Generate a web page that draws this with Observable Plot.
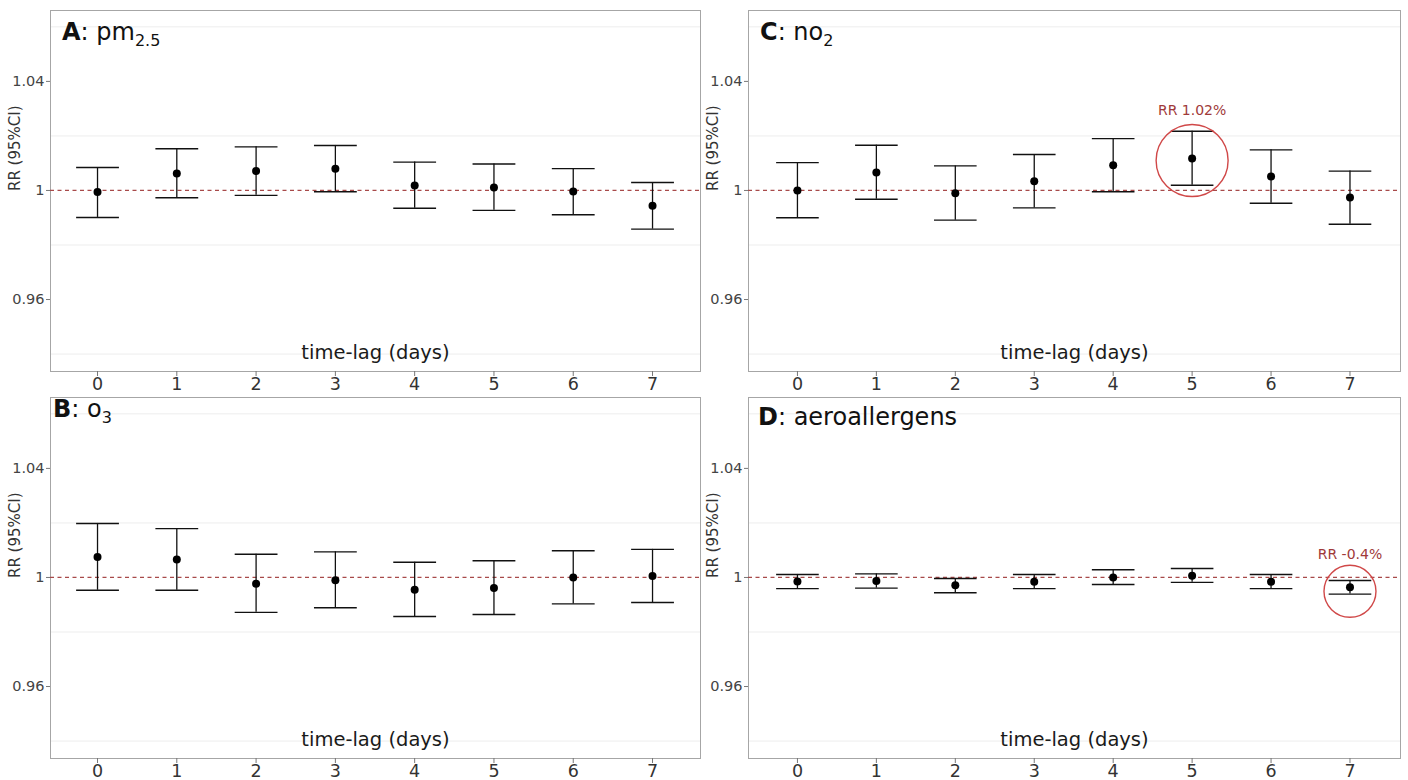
<!DOCTYPE html>
<html>
<head>
<meta charset="utf-8">
<script src="https://cdn.jsdelivr.net/npm/d3@7"></script>
<script src="https://cdn.jsdelivr.net/npm/@observablehq/plot@0.6"></script>
<style>
  html, body { margin: 0; padding: 0; background: #ffffff; }
  #chart { position: relative; width: 1408px; height: 780px; background: #ffffff; font-family: "DejaVu Sans", sans-serif; }
  .cell { position: absolute; }
</style>
</head>
<body>
<div id="chart"></div>
<script>
// ---- data ----
const lags = [0, 1, 2, 3, 4, 5, 6, 7];

const pm25_rr = [0.9994, 1.0062, 1.0071, 1.0080, 1.0018, 1.0011, 0.9996, 0.9944];
const pm25_lo = [0.9901, 0.9973, 0.9982, 0.9995, 0.9935, 0.9927, 0.9911, 0.9858];
const pm25_hi = [1.0084, 1.0153, 1.0160, 1.0165, 1.0104, 1.0097, 1.0080, 1.0029];

const o3_rr = [1.0075, 1.0066, 0.9977, 0.9990, 0.9955, 0.9961, 1.0000, 1.0005];
const o3_lo = [0.9953, 0.9953, 0.9872, 0.9889, 0.9857, 0.9864, 0.9903, 0.9908];
const o3_hi = [1.0198, 1.0179, 1.0085, 1.0094, 1.0056, 1.0061, 1.0098, 1.0103];

const no2_rr = [1.0000, 1.0066, 0.9990, 1.0034, 1.0092, 1.0117, 1.0051, 0.9974];
const no2_lo = [0.9900, 0.9968, 0.9891, 0.9936, 0.9995, 1.0019, 0.9953, 0.9876];
const no2_hi = [1.0102, 1.0166, 1.0090, 1.0132, 1.0190, 1.0217, 1.0149, 1.0071];

const aero_rr = [0.9985, 0.9987, 0.9971, 0.9984, 1.0000, 1.0006, 0.9984, 0.9964];
const aero_lo = [0.9959, 0.9961, 0.9944, 0.9959, 0.9974, 0.9982, 0.9959, 0.9939];
const aero_hi = [1.0011, 1.0013, 0.9996, 1.0011, 1.0028, 1.0033, 1.0011, 0.9989];

const yTicks = [0.96, 1, 1.04];
const yMinorGrid = [0.94, 0.98, 1.02, 1.06];
const xLabel = "time-lag (days)";
const yLabel = "RR (95%CI)";

const no2Note = {lag: 5, text: "RR 1.02%"};
const aeroNote = {lag: 7, text: "RR -0.4%"};

// ---- drawing ----
const CAP = 0.27;
const ERR = "#111111";
const REF = "#a84a4a";
const NOTE = "#a03a3a";
const RING = "#d04848";

function panel({rr, lo, hi, width, marginRight, xDomain, note, noteR, noteDy, noteTextDy, title, sub, tx, ty, height, marginTop, marginBottom}) {
  const data = lags.map((lag, i) => ({lag, rr: rr[i], lo: lo[i], hi: hi[i]}));
  const marks = [
    Plot.gridY(yMinorGrid, {stroke: "#ededed", strokeOpacity: 1}),
    Plot.frame({stroke: "#a6a6a6"}),
    Plot.ruleY([1], {stroke: REF, strokeDasharray: "4,3.5", strokeWidth: 1.3}),
    Plot.ruleX(data, {x: "lag", y1: "lo", y2: "hi", stroke: ERR, strokeWidth: 1.3}),
    Plot.link(data, {x1: d => d.lag - CAP, x2: d => d.lag + CAP, y1: "hi", y2: "hi", stroke: ERR, strokeWidth: 1.4}),
    Plot.link(data, {x1: d => d.lag - CAP, x2: d => d.lag + CAP, y1: "lo", y2: "lo", stroke: ERR, strokeWidth: 1.4}),
    Plot.dot(data, {x: "lag", y: "rr", r: 4, fill: "#000000", stroke: null}),
    Plot.axisX(lags, {tickSize: 5, tickPadding: 1, fontSize: 17.5, stroke: "#777777", fill: "#333333", label: null, tickFormat: d => String(d)}),
    Plot.axisY(yTicks, {tickSize: 4, tickPadding: 2, fontSize: 14.5, stroke: "#777777", fill: "#444444", label: null,
      tickFormat: d => d === 1 ? "1" : d3.format(".2f")(d)}),
    Plot.text([xLabel], {frameAnchor: "bottom", dy: -13, fontSize: 19.5, fill: "#1a1a1a"}),
    Plot.text([yLabel], {frameAnchor: "left", dx: -35, rotate: -90, fontSize: 15, fill: "#333333"})
  ];
  if (note) {
    const nd = data.filter(d => d.lag === note.lag).map(d => ({...d, text: note.text}));
    marks.push(Plot.dot(nd, {x: "lag", y: "rr", r: noteR, dy: noteDy, fill: "none", stroke: RING, strokeWidth: 1.4}));
    marks.push(Plot.text(nd, {x: "lag", y: "rr", text: "text", dy: noteTextDy, fontSize: 14, fill: NOTE}));
  }
  const svg = Plot.plot({
    width, height, marginLeft: 50, marginRight, marginTop, marginBottom,
    style: {fontFamily: "DejaVu Sans, sans-serif", background: "transparent", overflow: "visible"},
    x: {domain: xDomain},
    y: {domain: [0.9336, 1.066]},
    marks
  });
  const t = d3.select(svg).append("text")
    .attr("x", tx).attr("y", ty)
    .attr("text-anchor", "start")
    .attr("font-size", 24).attr("fill", "#111111")
    .attr("font-family", "DejaVu Sans, sans-serif");
  t.append("tspan").attr("font-weight", "bold").text(title[0]);
  t.append("tspan").text(title.slice(1));
  if (sub) t.append("tspan").attr("font-size", 16).attr("dy", 6).text(sub);
  return svg;
}

const chart = document.getElementById("chart");
function place(svg, left, top) {
  const d = document.createElement("div");
  d.className = "cell";
  d.style.left = left + "px";
  d.style.top = top + "px";
  d.appendChild(svg);
  chart.appendChild(d);
}

place(panel({rr: pm25_rr, lo: pm25_lo, hi: pm25_hi, width: 702, marginRight: 2, xDomain: [-0.593, 7.605],
  height: 392, marginTop: 10, marginBottom: 21, title: "A: pm", sub: "2.5", tx: 62, ty: 40}), 0, 0);
place(panel({rr: no2_rr, lo: no2_lo, hi: no2_hi, width: 706, marginRight: 4, xDomain: [-0.62, 7.64],
  height: 392, marginTop: 10, marginBottom: 21, title: "C: no", sub: "2", tx: 62, ty: 40,
  note: no2Note, noteR: 36, noteDy: 2, noteTextDy: -48}), 698, 0);
place(panel({rr: o3_rr, lo: o3_lo, hi: o3_hi, width: 702, marginRight: 2, xDomain: [-0.593, 7.605],
  height: 393, marginTop: 10, marginBottom: 22, title: "B: o", sub: "3", tx: 53, ty: 30}), 0, 387);
place(panel({rr: aero_rr, lo: aero_lo, hi: aero_hi, width: 706, marginRight: 4, xDomain: [-0.62, 7.64],
  height: 393, marginTop: 10, marginBottom: 22, title: "D: aeroallergens", sub: null, tx: 60, ty: 38,
  note: aeroNote, noteR: 26, noteDy: 4, noteTextDy: -33}), 698, 387);
</script>
</body>
</html>
